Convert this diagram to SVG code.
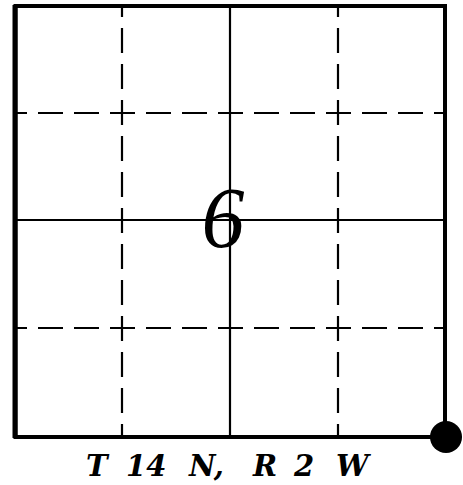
<svg xmlns="http://www.w3.org/2000/svg" width="463" height="485" viewBox="0 0 463 485">
<style>
.dash{stroke:#000;stroke-width:2.2;stroke-dasharray:25 11;stroke-dashoffset:13;fill:none}
.solid{stroke:#000;stroke-width:2.2;fill:none}
.lbl{font-family:"DejaVu Serif",serif;font-style:italic;font-weight:bold;font-size:29px;fill:#000}
</style>
<rect width="463" height="485" fill="#fff"/>
<g id="connectors">
<line class="dash" x1="122" y1="5" x2="122" y2="437"/>
<line class="dash" x1="338" y1="5" x2="338" y2="437"/>
<line class="dash" x1="15" y1="113" x2="445" y2="113"/>
<line class="dash" x1="15" y1="328" x2="445" y2="328"/>
<line class="solid" x1="230" y1="5" x2="230" y2="437"/>
<line class="solid" x1="15" y1="220" x2="445" y2="220"/>
</g>
<g id="section">
<rect x="15.5" y="6" width="429.5" height="431" fill="none" stroke="#000" stroke-width="4"/>
<line x1="15" y1="5" x2="15" y2="438" stroke="#000" stroke-width="5"/>
</g>
<g id="corner">
<circle cx="446" cy="437" r="16" fill="#000"/>
</g>
<g id="number">
<text x="223" y="247" text-anchor="middle" font-family="Liberation Serif, serif" font-style="italic" font-size="86">6</text>
</g>
<g id="label">
<text class="lbl" y="476"><tspan x="86">T</tspan><tspan x="126">14</tspan><tspan x="189">N,</tspan><tspan x="253">R</tspan><tspan x="294">2</tspan><tspan x="336">W</tspan></text>
</g>
</svg>
